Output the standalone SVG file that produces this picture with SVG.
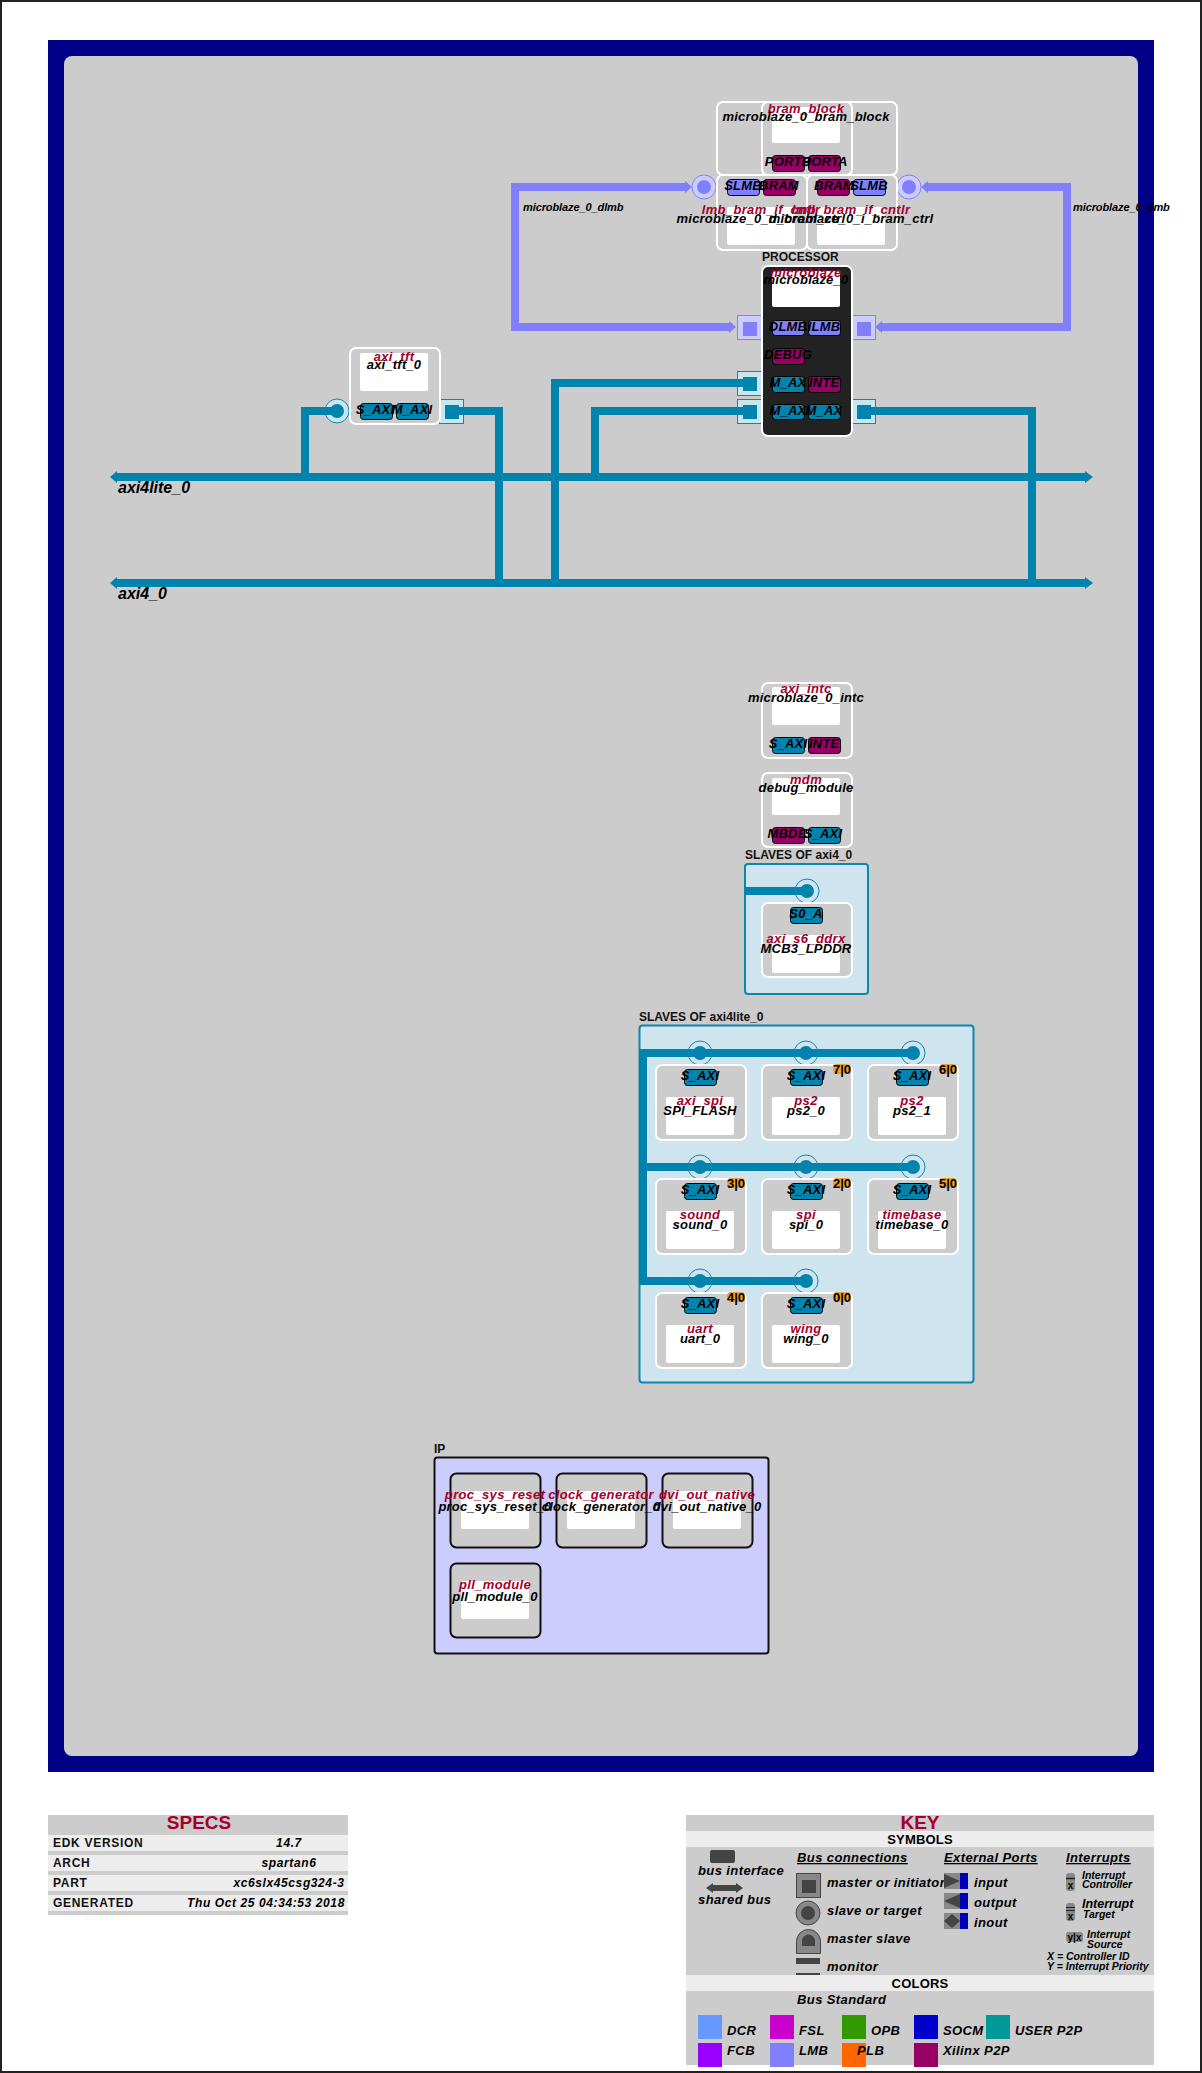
<svg xmlns="http://www.w3.org/2000/svg" width="1202" height="2073" viewBox="0 0 1202 2073">
<style>
text{font-family:"Liberation Sans",Arial,sans-serif;font-weight:bold;font-style:italic;font-size:13px;fill:#000;text-anchor:middle;letter-spacing:.2px}
.r{fill:#a5002d;letter-spacing:.35px}
.h{font-style:normal;font-size:12px;text-anchor:start;fill:#111;letter-spacing:0}
.bn{font-size:16px;text-anchor:start;letter-spacing:0}
.cl{font-size:11px;text-anchor:start;letter-spacing:-.1px}
.k{font-size:13px;text-anchor:start;letter-spacing:.4px}
.ku{font-size:13px;text-anchor:start;letter-spacing:.4px;text-decoration:underline}
.s{font-size:10.500px;text-anchor:start;letter-spacing:0}
.sh{font-style:normal;font-size:19px;fill:#a5002d;letter-spacing:0}
.bd{font-style:normal;font-size:13px;letter-spacing:.2px}
.v{font-size:12px;letter-spacing:.6px}
.sl{font-style:normal;font-size:12px;text-anchor:start;letter-spacing:.7px;fill:#111}
.q{font-style:normal;font-size:13px;letter-spacing:0;font-weight:bold}
.n{fill:#ccc;stroke:#fff;stroke-width:2}
.nb{fill:#ccc;stroke:#111;stroke-width:2}
.nd{fill:#222;stroke:#fff;stroke-width:2}
.w{fill:#fff}
.m{fill:#0084ad;stroke:#000;stroke-width:1}
.p{fill:#990066;stroke:#000;stroke-width:1}
.l{fill:#8080ff;stroke:#000;stroke-width:1}
.box{fill:#cee4ef;stroke:#0f86ac;stroke-width:2}
.am{stroke:#0084ad;fill:none;stroke-width:8}
.al{stroke:#8080ff;fill:none;stroke-width:8}
.st{stroke:#0084ad;stroke-width:1;fill:none}
.sp{stroke:#990066;stroke-width:1;fill:none}
.sb{stroke:#8080ff;stroke-width:1;fill:none}
.rm{fill:#c8e6f0;stroke:#0f86ac;stroke-width:1}
.rl{fill:#ccccff;stroke:#8080ff;stroke-width:1}
.fm{fill:#0084ad}
.fl{fill:#8080ff}
.o{fill:#f0a028}
.g{fill:#ccc}
.e{fill:#ededed}
.d{fill:#444}
.md{fill:#888;stroke:#444;stroke-width:1}
.u{stroke:#222;stroke-width:1;fill:none}
</style>
<rect x="1" y="1" width="1200" height="2071" fill="#fff" stroke="#222" stroke-width="2"/>
<rect x="48" y="40" width="1106" height="1732" fill="#000088"/>
<rect x="64" y="56" width="1074" height="1700" rx="8" fill="#ccc"/>

<g id="group-boxes">
<text class="h" x="745" y="859">SLAVES OF axi4_0</text>
<rect class="box" x="745" y="864" width="123" height="130" rx="3"/>
<text class="h" x="639" y="1021">SLAVES OF axi4lite_0</text>
<rect class="box" x="639.500" y="1025.500" width="334" height="357" rx="3"/>
<text class="h" x="434" y="1453">IP</text>
<rect x="434.500" y="1457.500" width="334" height="196" rx="3" fill="#ccccff" stroke="#111" stroke-width="2"/>
<text class="h" x="762" y="261">PROCESSOR</text>
</g>

<g id="connectors">
<rect class="rm" x="439.500" y="399.500" width="24" height="24"/>
<circle class="rm" cx="337" cy="411" r="12"/>
<rect class="rm" x="737.500" y="371.500" width="24" height="24"/>
<rect class="rm" x="737.500" y="399.500" width="24" height="24"/>
<rect class="rm" x="851.500" y="399.500" width="24" height="24"/>
<rect class="rl" x="737.500" y="315.500" width="24" height="24"/>
<rect class="rl" x="851.500" y="315.500" width="24" height="24"/>
<circle class="rl" cx="704" cy="187" r="12"/>
<circle class="rl" cx="909" cy="187" r="12"/>
<rect class="fl" x="743" y="322" width="14" height="14"/>
<rect class="fl" x="857" y="322" width="14" height="14"/>
<circle class="fl" cx="704" cy="187" r="7"/>
<circle class="fl" cx="909" cy="187" r="7"/>
<rect class="fm" x="743" y="377" width="14" height="14"/>
<rect class="fm" x="743" y="405" width="14" height="14"/>
<rect class="fm" x="857" y="405" width="14" height="14"/>
<rect class="fm" x="445" y="405" width="14" height="14"/>
<circle class="fm" cx="337" cy="411" r="7"/>

<path class="al" d="M688 187H515V327H732"/>
<path class="fl" d="M685 181L692 187L685 193ZM729 321L736 327L729 333Z"/>
<path class="al" d="M925 187H1067V327H879"/>
<path class="fl" d="M928 181L921 187L928 193ZM882 321L875 327L882 333Z"/>

<path class="am" d="M115 477H1087"/>
<path class="am" d="M115 583H1087"/>
<path class="fm" d="M117 471L110 477L117 483ZM117 577L110 583L117 589ZM1085 471L1093 477L1085 483ZM1085 577L1093 583L1085 589Z"/>
<path class="am" d="M305 477V411H337"/>
<path class="am" d="M499 583V411H452"/>
<path class="am" d="M555 583V383H750"/>
<path class="am" d="M595 477V411H750"/>
<path class="am" d="M1032 583V411H864"/>

<path class="st" d="M349 413.500H360M429 413.500H440M762 385.500H772M762 413.500H772M841 413.500H852M761 747.500H772M841 831.500H852"/>
<path class="sb" d="M762 329.500H772M841 329.500H852M716 189.500H727M886 189.500H897"/>
<path class="sp" d="M761 357.500H772M841 385.500H852M841 747.500H852M761 831.500H772"/>

<path class="am" d="M745 891H807"/>
<circle class="rm" cx="807" cy="891" r="12" style="fill:none"/>
<circle class="fm" cx="807" cy="891" r="7"/>
<path class="am" d="M643 1049V1285M639 1053H913M639 1167H913M639 1281H806"/>
<g fill="none" stroke="#0f86ac" stroke-width="1">
<circle cx="700" cy="1053" r="12"/><circle cx="806" cy="1053" r="12"/><circle cx="913" cy="1053" r="12"/>
<circle cx="700" cy="1167" r="12"/><circle cx="806" cy="1167" r="12"/><circle cx="913" cy="1167" r="12"/>
<circle cx="700" cy="1281" r="12"/><circle cx="806" cy="1281" r="12"/>
</g>
<g class="fm">
<circle cx="700" cy="1053" r="7"/><circle cx="806" cy="1053" r="7"/><circle cx="913" cy="1053" r="7"/>
<circle cx="700" cy="1167" r="7"/><circle cx="806" cy="1167" r="7"/><circle cx="913" cy="1167" r="7"/>
<circle cx="700" cy="1281" r="7"/><circle cx="806" cy="1281" r="7"/>
</g>
<text class="cl" x="523" y="211">microblaze_0_dlmb</text>
<text class="cl" x="1073" y="211">microblaze_0_ilmb</text>
<text class="bn" x="118" y="493">axi4lite_0</text>
<text class="bn" x="118" y="599">axi4_0</text>
</g>

<g id="bram_group"><rect class="n" x="717" y="102" width="180" height="73" rx="6"/></g>
<g id="microblaze_0_bram_block">
<rect class="n" x="762" y="102" width="90" height="73" rx="6"/>
<rect class="w" x="772" y="107" width="68" height="36" rx="2"/>
<rect class="p" x="772.500" y="155.500" width="32" height="16" rx="3"/>
<rect class="p" x="808.500" y="155.500" width="32" height="16" rx="3"/>
<text class="r" x="806" y="113">bram_block</text>
<text x="806" y="121">microblaze_0_bram_block</text>
<text x="788" y="166">PORTB</text>
<text x="825" y="166">PORTA</text>
</g>
<g id="microblaze_0_d_bram_ctrl">
<rect class="n" x="717" y="175" width="90" height="75" rx="6"/>
<rect class="w" x="727" y="207" width="68" height="38" rx="2"/>
<rect class="l" x="727.500" y="179.500" width="32" height="16" rx="3"/>
<rect class="p" x="763.500" y="179.500" width="32" height="16" rx="3"/>
</g>
<g id="microblaze_0_i_bram_ctrl">
<rect class="n" x="807" y="175" width="90" height="75" rx="6"/>
<rect class="w" x="817" y="207" width="68" height="38" rx="2"/>
<rect class="p" x="817.500" y="179.500" width="32" height="16" rx="3"/>
<rect class="l" x="853.500" y="179.500" width="32" height="16" rx="3"/>
</g>
<g id="bram_ctrl_labels">
<text x="743" y="190">SLMB</text>
<text x="779" y="190">BRAM</text>
<text x="834" y="190">BRAM</text>
<text x="869" y="190">SLMB</text>
<text class="r" x="761" y="214">lmb_bram_if_cntlr</text>
<text class="r" x="851" y="214">lmb_bram_if_cntlr</text>
<text x="761" y="223">microblaze_0_d_bram_ctrl</text>
<text x="851" y="223">microblaze_0_i_bram_ctrl</text>
</g>
<g id="microblaze_0">
<rect class="nd" x="762" y="266" width="90" height="170" rx="6"/>
<rect class="w" x="772" y="271" width="68" height="36" rx="2"/>
<rect class="l" x="772.500" y="320.500" width="32" height="15" rx="3"/>
<rect class="l" x="808.500" y="320.500" width="32" height="15" rx="3"/>
<rect class="p" x="772.500" y="348.500" width="32" height="16" rx="3"/>
<rect class="m" x="772.500" y="376.500" width="32" height="16" rx="3"/>
<rect class="p" x="808.500" y="376.500" width="32" height="16" rx="3"/>
<rect class="m" x="772.500" y="404.500" width="32" height="15" rx="3"/>
<rect class="m" x="808.500" y="404.500" width="32" height="15" rx="3"/>
<text class="r" x="806" y="277">microblaze</text>
<text x="806" y="284">microblaze_0</text>
<text x="788" y="331">DLMB</text>
<text x="824" y="331">ILMB</text>
<text x="788" y="359">DEBUG</text>
<text x="788" y="387">M_AX</text>
<text x="824" y="387">INTE</text>
<text x="788" y="415">M_AX</text>
<text x="824" y="415">M_AX</text>
</g>
<g id="axi_tft_0">
<rect class="n" x="350" y="348" width="90" height="76" rx="6"/>
<rect class="w" x="360" y="353" width="68" height="38" rx="2"/>
<rect class="m" x="360.500" y="403.500" width="32" height="16" rx="3"/>
<rect class="m" x="396.500" y="403.500" width="32" height="16" rx="3"/>
<text class="r" x="394" y="361">axi_tft</text>
<text x="394" y="369">axi_tft_0</text>
<text x="375" y="414">S_AXI</text>
<text x="412" y="414">M_AXI</text>
</g>
<g id="microblaze_0_intc">
<rect class="n" x="762" y="683" width="90" height="75" rx="6"/>
<rect class="w" x="772" y="687" width="68" height="38" rx="2"/>
<rect class="m" x="772.500" y="737.500" width="32" height="16" rx="3"/>
<rect class="p" x="808.500" y="737.500" width="32" height="16" rx="3"/>
<text class="r" x="806" y="693">axi_intc</text>
<text x="806" y="702">microblaze_0_intc</text>
<text x="788" y="748">S_AXI</text>
<text x="824" y="748">INTE</text>
</g>
<g id="debug_module">
<rect class="n" x="762" y="773" width="90" height="74" rx="6"/>
<rect class="w" x="772" y="778" width="68" height="37" rx="2"/>
<rect class="p" x="772.500" y="827.500" width="32" height="16" rx="3"/>
<rect class="m" x="808.500" y="827.500" width="32" height="16" rx="3"/>
<text class="r" x="806" y="784">mdm</text>
<text x="806" y="792">debug_module</text>
<text x="787" y="838">MBDE</text>
<text x="823" y="838">S_AXI</text>
</g>
<g id="MCB3_LPDDR">
<rect class="n" x="762" y="903" width="90" height="74" rx="6"/>
<rect class="w" x="772" y="935" width="68" height="38" rx="2"/>
<rect class="m" x="790.500" y="907.500" width="32" height="16" rx="3"/>
<text x="806" y="918">S0_A</text>
<text class="r" x="806" y="943">axi_s6_ddrx</text>
<text x="806" y="953">MCB3_LPDDR</text>
</g>

<g id="SPI_FLASH">
<rect class="n" x="656" y="1065" width="90" height="75" rx="6"/><rect class="w" x="666" y="1097" width="68" height="38" rx="2"/>
<rect class="m" x="684.500" y="1069.500" width="32" height="16" rx="3"/>
<text x="700" y="1080">S_AXI</text><text class="r" x="700" y="1105">axi_spi</text><text x="700" y="1115">SPI_FLASH</text>
</g>
<g id="ps2_0">
<rect class="n" x="762" y="1065" width="90" height="75" rx="6"/><rect class="w" x="772" y="1097" width="68" height="38" rx="2"/>
<rect class="m" x="790.500" y="1069.500" width="32" height="16" rx="3"/>
<rect class="o" x="833" y="1064" width="18" height="10" rx="4"/><text class="q" x="842" y="1074">7|0</text>
<text x="806" y="1080">S_AXI</text><text class="r" x="806" y="1105">ps2</text><text x="806" y="1115">ps2_0</text>
</g>
<g id="ps2_1">
<rect class="n" x="868" y="1065" width="90" height="75" rx="6"/><rect class="w" x="878" y="1097" width="68" height="38" rx="2"/>
<rect class="m" x="896.500" y="1069.500" width="32" height="16" rx="3"/>
<rect class="o" x="939" y="1064" width="18" height="10" rx="4"/><text class="q" x="948" y="1074">6|0</text>
<text x="912" y="1080">S_AXI</text><text class="r" x="912" y="1105">ps2</text><text x="912" y="1115">ps2_1</text>
</g>
<g id="sound_0">
<rect class="n" x="656" y="1179" width="90" height="75" rx="6"/><rect class="w" x="666" y="1211" width="68" height="38" rx="2"/>
<rect class="m" x="684.500" y="1183.500" width="32" height="16" rx="3"/>
<rect class="o" x="727" y="1178" width="18" height="10" rx="4"/><text class="q" x="736" y="1188">3|0</text>
<text x="700" y="1194">S_AXI</text><text class="r" x="700" y="1219">sound</text><text x="700" y="1229">sound_0</text>
</g>
<g id="spi_0">
<rect class="n" x="762" y="1179" width="90" height="75" rx="6"/><rect class="w" x="772" y="1211" width="68" height="38" rx="2"/>
<rect class="m" x="790.500" y="1183.500" width="32" height="16" rx="3"/>
<rect class="o" x="833" y="1178" width="18" height="10" rx="4"/><text class="q" x="842" y="1188">2|0</text>
<text x="806" y="1194">S_AXI</text><text class="r" x="806" y="1219">spi</text><text x="806" y="1229">spi_0</text>
</g>
<g id="timebase_0">
<rect class="n" x="868" y="1179" width="90" height="75" rx="6"/><rect class="w" x="878" y="1211" width="68" height="38" rx="2"/>
<rect class="m" x="896.500" y="1183.500" width="32" height="16" rx="3"/>
<rect class="o" x="939" y="1178" width="18" height="10" rx="4"/><text class="q" x="948" y="1188">5|0</text>
<text x="912" y="1194">S_AXI</text><text class="r" x="912" y="1219">timebase</text><text x="912" y="1229">timebase_0</text>
</g>
<g id="uart_0">
<rect class="n" x="656" y="1293" width="90" height="75" rx="6"/><rect class="w" x="666" y="1325" width="68" height="38" rx="2"/>
<rect class="m" x="684.500" y="1297.500" width="32" height="16" rx="3"/>
<rect class="o" x="727" y="1292" width="18" height="10" rx="4"/><text class="q" x="736" y="1302">4|0</text>
<text x="700" y="1308">S_AXI</text><text class="r" x="700" y="1333">uart</text><text x="700" y="1343">uart_0</text>
</g>
<g id="wing_0">
<rect class="n" x="762" y="1293" width="90" height="75" rx="6"/><rect class="w" x="772" y="1325" width="68" height="38" rx="2"/>
<rect class="m" x="790.500" y="1297.500" width="32" height="16" rx="3"/>
<rect class="o" x="833" y="1292" width="18" height="10" rx="4"/><text class="q" x="842" y="1302">0|0</text>
<text x="806" y="1308">S_AXI</text><text class="r" x="806" y="1333">wing</text><text x="806" y="1343">wing_0</text>
</g>

<g id="proc_sys_reset_0">
<rect class="nb" x="450.500" y="1473.500" width="90" height="74" rx="6"/><rect class="w" x="461" y="1491" width="68" height="38" rx="2"/>
<text class="r" x="495" y="1499">proc_sys_reset</text><text x="495" y="1511">proc_sys_reset_0</text>
</g>
<g id="clock_generator_0">
<rect class="nb" x="556.500" y="1473.500" width="90" height="74" rx="6"/><rect class="w" x="567" y="1491" width="68" height="38" rx="2"/>
<text class="r" x="601" y="1499">clock_generator</text><text x="601" y="1511">clock_generator_0</text>
</g>
<g id="dvi_out_native_0">
<rect class="nb" x="662.500" y="1473.500" width="90" height="74" rx="6"/><rect class="w" x="673" y="1491" width="68" height="38" rx="2"/>
<text class="r" x="707" y="1499">dvi_out_native</text><text x="707" y="1511">dvi_out_native_0</text>
</g>
<g id="pll_module_0">
<rect class="nb" x="450.500" y="1563.500" width="90" height="74" rx="6"/><rect class="w" x="461" y="1581" width="68" height="38" rx="2"/>
<text class="r" x="495" y="1589">pll_module</text><text x="495" y="1601">pll_module_0</text>
</g>

<g id="specs">
<rect class="g" x="48" y="1815" width="300" height="100"/>
<rect class="e" x="48" y="1835" width="300" height="16"/>
<rect class="e" x="48" y="1855" width="300" height="16"/>
<rect class="e" x="48" y="1875" width="300" height="16"/>
<rect class="e" x="48" y="1895" width="300" height="16"/>
<text class="sh" x="199" y="1829">SPECS</text>
<text class="sl" x="53" y="1847">EDK VERSION</text>
<text class="sl" x="53" y="1867">ARCH</text>
<text class="sl" x="53" y="1887">PART</text>
<text class="sl" x="53" y="1907">GENERATED</text>
<text class="v" x="289" y="1847">14.7</text>
<text class="v" x="289" y="1867">spartan6</text>
<text class="v" x="289" y="1887">xc6slx45csg324-3</text>
<text class="v" x="266" y="1907">Thu Oct 25 04:34:53 2018</text>
</g>

<g id="key">
<rect class="g" x="686" y="1815" width="468" height="250"/>
<rect class="e" x="686" y="1831" width="468" height="16"/>
<rect class="e" x="686" y="1975" width="468" height="16"/>
<text class="sh" x="920" y="1829">KEY</text>
<text class="bd" x="920" y="1844">SYMBOLS</text>
<text class="bd" x="920" y="1988">COLORS</text>

<rect class="d" x="710" y="1850" width="25" height="13" rx="2"/>
<text class="k" x="698" y="1875">bus interface</text>
<path class="d" d="M706 1888L713 1883V1885H736V1883L743 1888L736 1893V1891H713V1893Z"/>
<text class="k" x="698" y="1904">shared bus</text>

<text class="ku" x="797" y="1862">Bus connections</text>
<text class="ku" x="944" y="1862">External Ports</text>
<text class="ku" x="1066" y="1862">Interrupts</text>

<rect class="md" x="796.500" y="1873.500" width="24" height="24"/>
<rect class="d" x="802" y="1880" width="14" height="13"/>
<text class="k" x="827" y="1887">master or initiator</text>
<circle class="md" cx="808" cy="1913" r="12"/>
<circle class="d" cx="808" cy="1913" r="7"/>
<text class="k" x="827" y="1915">slave or target</text>
<path class="md" d="M796.500 1953.500V1941.500A12 12 0 0 1 820.500 1941.500V1953.500Z"/>
<path class="d" d="M802 1946V1941A6.500 6.500 0 0 1 815 1941V1946Z"/>
<text class="k" x="827" y="1943">master slave</text>
<rect class="d" x="796" y="1958" width="24" height="6"/>
<rect class="d" x="796" y="1973" width="24" height="2"/>
<text class="k" x="827" y="1971">monitor</text>

<rect x="944" y="1873" width="16" height="16" fill="#888"/><rect x="960" y="1873" width="8" height="16" fill="#0000bb"/>
<path class="d" d="M944 1874L960 1881L944 1888Z"/>
<text class="k" x="974" y="1887">input</text>
<rect x="944" y="1893" width="16" height="16" fill="#888"/><rect x="960" y="1893" width="8" height="16" fill="#0000bb"/>
<path class="d" d="M960 1894L944 1901L960 1908Z"/>
<text class="k" x="974" y="1907">output</text>
<rect x="944" y="1913" width="16" height="16" fill="#888"/><rect x="960" y="1913" width="8" height="16" fill="#0000bb"/>
<path class="d" d="M952 1914L960 1921L952 1928L944 1921Z"/>
<text class="k" x="974" y="1927">inout</text>

<rect x="1066" y="1873" width="9" height="18" rx="3" fill="#888"/>
<path class="u" d="M1066 1878.500H1075" style="stroke-width:1.500"/>
<text class="q" style="font-size:10px" x="1070.500" y="1889">x</text>
<text class="s" x="1082" y="1879">Interrupt</text>
<text class="s" x="1082" y="1888">Controller</text>
<rect x="1066" y="1903" width="9" height="18" rx="3" fill="#888"/>
<path class="u" d="M1066 1907.500H1075M1066 1910.500H1075"/>
<text class="q" style="font-size:10px" x="1070.500" y="1920">x</text>
<text class="s" style="font-size:12.500px" x="1082" y="1908">Interrupt</text>
<text class="s" x="1083" y="1918">Target</text>
<rect x="1066" y="1932" width="17" height="10" rx="3" fill="#888"/>
<text class="q" style="font-size:10px" x="1074.500" y="1941">y|x</text>
<text class="s" x="1087" y="1938">Interrupt</text>
<text class="s" x="1087" y="1948">Source</text>
<text class="s" x="1047" y="1960">X = Controller ID</text>
<text class="s" x="1047" y="1970">Y = Interrupt Priority</text>

<text class="k" x="797" y="2004">Bus Standard</text>
<rect x="698" y="2015" width="24" height="24" fill="#6699ff"/><text class="k" x="727" y="2035">DCR</text>
<rect x="770" y="2015" width="24" height="24" fill="#cc00cc"/><text class="k" x="799" y="2035">FSL</text>
<rect x="842" y="2015" width="24" height="24" fill="#339900"/><text class="k" x="871" y="2035">OPB</text>
<rect x="914" y="2015" width="24" height="24" fill="#0000cc"/><text class="k" x="943" y="2035">SOCM</text>
<rect x="986" y="2015" width="24" height="24" fill="#009999"/><text class="k" x="1015" y="2035">USER P2P</text>
<rect x="698" y="2043" width="24" height="24" fill="#9900ff"/><text class="k" x="727" y="2055">FCB</text>
<rect x="770" y="2043" width="24" height="24" fill="#8080ff"/><text class="k" x="799" y="2055">LMB</text>
<rect x="842" y="2043" width="24" height="24" fill="#ff6600"/><text class="k" x="857" y="2055">PLB</text>
<rect x="914" y="2043" width="24" height="24" fill="#990066"/><text class="k" x="943" y="2055">Xilinx P2P</text>
</g>
</svg>
